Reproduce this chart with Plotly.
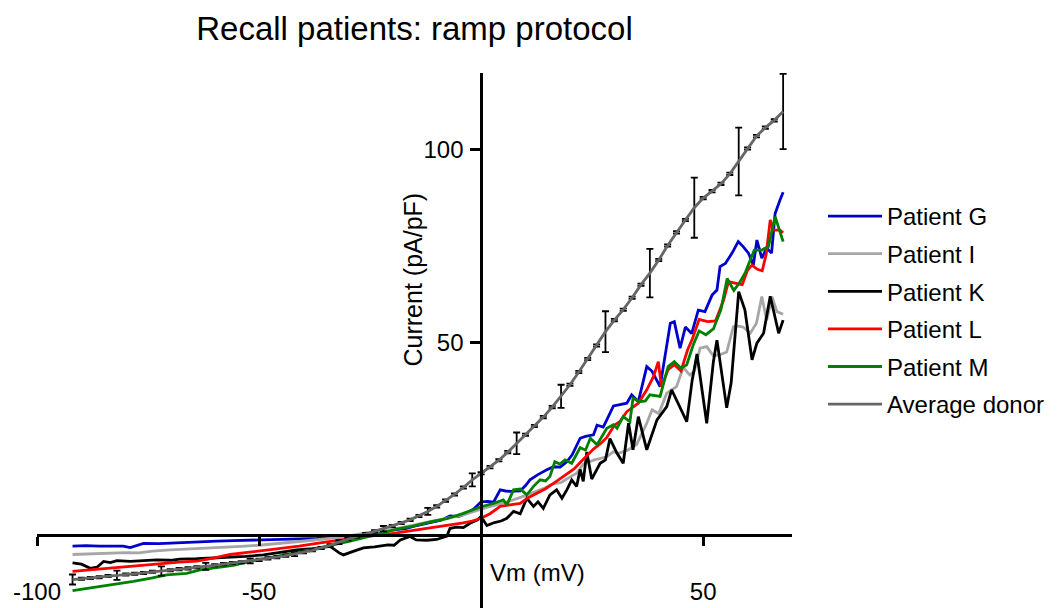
import plotly.graph_objects as go

# ---------------- data ----------------
V_G = [-92, -89, -86, -83, -80.6, -79, -76, -72.5, -69.3, -66, -63.3, -59.5, -55.8, -52.5, -49.8, -45, -40.8, -37,
       -33.3, -29.5, -25.7, -22.7, -19.8, -17, -15.3, -13.7, -11, -9, -7, -5, -3.2, -1.5, 0, 1.5, 2.8, 4.3, 5.5, 6.5,
       8.8, 10, 11, 12.7, 14.8, 16.3, 17.8, 19.3, 20.5, 22.3, 23.5, 25.3, 26.1, 27.5, 28.3, 29.8, 31, 32.8, 33.9, 35.4,
       37.3, 38.5, 40.3, 41.5, 42.6, 43.5, 44.8, 46.0, 47.4, 48.9, 50.4, 52.0, 53.1, 53.8, 55.0, 56.5, 57.9, 59.0,
       60.2, 61.3, 62.1, 63.2, 64.3, 65.4, 66.2, 67.3, 68.0]
I_G = [-2.9, -2.8, -2.9, -2.8, -2.9, -3.3, -2.2, -2.3, -2.1, -1.9, -1.8, -1.6, -1.5, -1.4, -1.3, -1.3, -1.1, -0.9,
       -0.6, -0.4, 0.1, 0.9, 1.3, 1.6, 2.2, 2.6, 3.2, 3.8, 4.9, 4.8, 5.6, 6.9, 8.6, 8.7, 8.5, 11.7, 11.4, 11.3,
       11.4, 12.8, 14.3, 15.6, 16.9, 17.7, 17.6, 19.0, 20.8, 25.1, 25.6, 26.0, 28.5, 28.0, 29.9, 33.5, 33.8, 34.2, 36.4,
       34.6, 43.7, 42.5, 38.5, 47.5, 55.0, 55.4, 48.5, 54.0, 52.3, 58.4, 58.0, 62.3, 63.6, 69.7, 70.5, 73.2, 76.2,
       74.9, 73.2, 70.1, 76.6, 71.9, 74.5, 73.2, 83.5, 87.0, 89.0]

V_I = [-92, -88, -84, -80, -77, -74, -70, -66, -62, -58, -54, -50, -46, -42, -38, -34, -30, -26, -22, -18, -14,
       -11.5, -8, -4, 0, 3, 6, 9, 12, 14, 16, 18, 20, 21.5, 23, 25.5, 28.3, 29.8, 31, 33, 35, 37.3, 38.5, 40, 41.8,
       44, 45.5, 47, 48, 49.3, 50.8, 52.3, 53.8, 55.3, 56.8, 57.6, 59, 60.6, 62, 63.2, 64.3, 65.5, 66.6, 68]
I_I = [-5.1, -4.9, -4.8, -4.6, -4.7, -4.2, -3.9, -3.7, -3.5, -3.3, -3.0, -2.7, -2.3, -1.8, -1.4, -0.9, -0.3, 0.5,
       1.1, 1.9, 2.8, 3.4, 4.3, 5.2, 6.7, 7.6, 8.6, 9.8, 11.0, 12.0, 13.2, 13.6, 15.0, 16.0, 18.4, 19.5, 20.3, 21.6,
       21.2, 22.0, 23.5, 29.0, 32.5, 31.5, 36.8, 38.5, 43.5, 41.5, 42.5, 48.5, 48.9, 46.5, 46.8, 47.5, 54.1, 54.3,
       54.0, 52.4, 55.0, 61.9, 55.8, 61.9, 58.0, 57.3]

V_K = [-92, -90, -88, -86.5, -85, -83.5, -82, -79, -76, -73, -70, -67.8, -64, -60, -56.5, -53, -49, -45, -41.5, -38,
       -34, -31.8, -31, -28.8, -26.5, -24, -21, -19.6, -18.2, -16, -14.6, -12.2, -10, -7.7, -7, -5.5, -4, -2.5, -0.8,
       0, 1.3, 3, 4.5, 5.8, 7.3, 8.8, 10.3, 11.8, 12.8, 14, 15.5, 17, 18.2, 19.3, 20.4, 21.5, 22.3, 23, 23.8, 24.9,
       26.8, 28, 29, 30.6, 32, 33.2, 34.2, 35.4, 37.3, 39.6, 41.8, 42.9, 44, 46.3, 47.5, 48.6, 50.8, 52.3, 53.1, 55.3,
       56.3, 58, 59.4, 61, 62.1, 63.6, 65.1, 67, 68]
I_K = [-7.3, -7.6, -8.7, -8.4, -6.9, -7.2, -6.7, -6.9, -6.7, -6.5, -6.6, -6.3, -6.2, -6.0, -5.8, -5.6, -5.2, -4.6,
       -3.9, -3.6, -3.0, -4.8, -5.2, -4.3, -3.4, -3.1, -2.6, -2.7, -1.3, -0.4, -1.3, -1.4, -1.2, -0.3, 1.7, 2.0, 1.9,
       3.0, 3.9, 4.8, 2.4, 3.2, 3.6, 4.3, 6.1, 5.5, 9.5, 7.4, 8.6, 6.9, 10.4, 11.7, 9.5, 11.7, 14.3, 12.6, 17.0, 13.9,
       21.5, 14.5, 18.6, 19.5, 25.0, 21.2, 18.6, 29.0, 22.1, 30.7, 22.1, 29.9, 33.3, 37.7, 35.1, 29.4, 40.0, 47.0,
       29.0, 45.0, 50.6, 33.0, 39.5, 63.2, 58.4, 45.5, 49.8, 52.4, 62.0, 52.4, 55.8]

V_L = [-92, -89, -86, -83, -80, -77, -74, -71, -68, -64, -60, -56.5, -52, -48, -44, -41, -37, -33, -29, -26, -22,
       -19, -15, -11.5, -8, -4, -2, 0, 2, 4.3, 6.5, 8.8, 10.5, 12.5, 14.5, 16.3, 18, 19.3, 21, 22.3, 24, 25.3, 27,
       28.3, 30, 31.3, 32.8, 35.4, 37.3, 38.8, 39.9, 40.6, 42.1, 43.5, 45, 46.5, 47.6, 49.1, 51, 52.8, 54.6, 55.7,
       57.2, 58.8, 60, 61, 62.2, 63.3, 64.2, 65.1, 65.8, 67.3, 68]
I_L = [-9.5, -9.2, -8.8, -8.5, -8.3, -8.0, -7.7, -7.4, -7.1, -6.8, -6.0, -5.1, -4.5, -3.9, -3.4, -2.9, -2.2, -1.6,
       -0.9, -0.4, 0.0, 0.5, 1.1, 1.7, 2.3, 3.1, 3.6, 4.3, 5.5, 7.4, 7.8, 8.2, 9.6, 10.8, 12.0, 13.4, 14.8, 16.0, 17.2,
       18.8, 20.8, 22.3, 23.8, 25.3, 28.5, 29.5, 32.0, 34.2, 37.7, 41.1, 45.0, 38.5, 42.9, 44.2, 42.6, 48.1, 51.0,
       56.0, 55.4, 55.6, 61.0, 65.8, 65.4, 65.0, 68.8, 70.1, 69.0, 68.6, 73.0, 81.8, 79.2, 79.2, 78.5]

V_M = [-92, -88, -85.8, -82, -78.3, -74, -70.8, -66.3, -63.3, -60, -55.8, -52, -48.3, -44.5, -40.8, -37, -33.3,
       -29.5, -25.7, -22.7, -19, -15.3, -11.5, -7.7, -4, 0, 2.8, 5, 5.8, 7.3, 8.8, 10.3, 11.8, 13.3, 14.5, 15.5, 16.6,
       17.7, 18.9, 20.4, 22.3, 23.5, 24.6, 26.1, 28.3, 29.8, 30.6, 32, 33.5, 34.2, 35.7, 37, 38, 40.3, 42.1, 43.5, 45,
       46.3, 47.8, 49.1, 50.6, 52.3, 54, 55.4, 56.9, 58.2, 59.5, 61.5, 63.2, 64.7, 66.2, 67.3, 68]
I_M = [-14.5, -13.8, -13.4, -12.8, -12.1, -11.2, -10.4, -10.0, -9.1, -8.6, -7.9, -6.9, -6.1, -5.4, -4.4, -3.5, -2.6,
       -1.6, -0.5, 0.3, 1.5, 2.3, 3.4, 4.2, 5.6, 7.3, 8.2, 9.1, 7.8, 11.7, 11.9, 10.4, 12.6, 14.3, 14.0, 15.2, 19.0,
       18.4, 19.5, 18.6, 22.7, 22.0, 25.1, 23.4, 27.7, 28.6, 27.7, 30.7, 29.4, 35.5, 34.6, 34.8, 36.4, 36.0, 43.7,
       45.0, 43.3, 44.2, 49.5, 53.0, 52.0, 53.5, 58.5, 66.6, 63.5, 65.5, 68.2, 74.0, 74.0, 74.9, 82.7, 78.8, 76.2]

V_D = [-92, -90, -88, -86, -84, -82, -80, -78, -76, -74, -72, -70, -68, -66, -64, -62, -60, -58, -56, -54, -52,
       -50, -48, -46, -44, -42, -40, -38, -36, -34, -32, -30, -28, -26, -24, -22, -20, -18, -16, -14, -12, -10, -8,
       -6, -4, -2, 0, 2, 4, 6, 8, 10, 12, 14, 16, 18, 20, 22, 24, 26, 28, 30, 32, 34, 36, 38, 40, 42, 44, 46, 48,
       50, 52, 54, 56, 58, 60, 62, 64, 66, 68]
I_D = [-11.6, -11.4, -11.2, -11.0, -10.7, -10.5, -10.3, -10.1, -9.9, -9.6, -9.4, -9.2, -8.9, -8.7, -8.4, -8.2, -7.9,
       -7.6, -7.3, -7.1, -6.8, -6.5, -6.1, -5.8, -5.4, -5.0, -4.5, -4.0, -3.4, -2.7, -1.9, -1.1, -0.4, 0.2, 0.9, 1.6,
       2.3, 3.1, 3.9, 4.9, 6.1, 7.4, 8.9, 10.5, 12.3, 14.3, 16.0, 17.6, 19.4, 21.5, 23.8, 26.0, 28.3, 30.6, 33.2,
       36.0, 39.0, 42.3, 45.7, 49.2, 52.8, 55.8, 58.5, 61.6, 65.0, 68.0, 71.4, 75.2, 78.6, 81.8, 85.0, 87.5, 89.3,
       91.2, 93.8, 97.0, 100.4, 103.6, 105.8, 107.7, 110.0]
E_D = [1.3, 0.3, 0.3, 0.3, 0.3, 1.2, 0.3, 0.3, 0.3, 0.3, 1.2, 0.3, 0.3, 0.3, 0.3, 0.9, 0.3, 0.3, 0.3, 0.3, 0.6,
       0.3, 0.3, 0.3, 0.3, 0.5, 0.3, 0.3, 0.3, 0.3, 0.5, 0.3, 0.3, 0.3, 0.3, 0.7, 0.3, 0.3, 0.3, 0.3, 0.9, 0.3, 0.3,
       0.3, 0.3, 1.7, 0.3, 0.3, 0.3, 0.3, 2.8, 0.3, 0.3, 0.3, 0.3, 3.0, 0.3, 0.3, 0.3, 0.3, 5.3, 0.3, 0.3, 0.3, 0.3,
       6.3, 0.3, 0.3, 0.3, 0.3, 7.8, 0.3, 0.3, 0.3, 0.3, 8.8, 0.3, 0.3, 0.3, 0.3, 9.8]

X_TICKS = [-100, -50, 50]
Y_TICKS = [50, 100]
X_RANGE = [-100, 70]
Y_RANGE = [-19, 120]

FONT = "Liberation Sans, Arial, sans-serif"

series = [
    ("Patient G", V_G, I_G, "#0000CC"),
    ("Patient I", V_I, I_I, "#A6A6A6"),
    ("Patient K", V_K, I_K, "#000000"),
    ("Patient L", V_L, I_L, "#FF0000"),
    ("Patient M", V_M, I_M, "#008000"),
]

fig = go.Figure()
for name, vx, iy, col in series:
    fig.add_trace(go.Scatter(x=vx, y=iy, mode="lines", name=name, legendgroup=name,
                             line=dict(color=col, width=2.8)))

fig.add_trace(go.Scatter(
    x=V_D, y=I_D, mode="lines", name="Average donor", legendgroup="donor",
    line=dict(color="#666666", width=2.8),
    error_y=dict(type="data", array=E_D, visible=True, color="#000000", thickness=1.8, width=3.5),
))

L, R, T, B = 37, 268, 73, 0
W, H = 1060, 608
pw = W - L - R
ph = H - T - B

def px_x(p):
    return (p - L) / pw

def px_y(p):
    return (H - B - p) / ph

fig.update_layout(
    width=W, height=H,
    margin=dict(l=L, r=R, t=T, b=B, autoexpand=False),
    paper_bgcolor="white", plot_bgcolor="white",
    font=dict(family=FONT, size=24, color="black"),
    showlegend=True,
    title=dict(text="Recall patients: ramp protocol", font=dict(size=33, family=FONT, color="black"),
               xref="paper", x=0.5, xanchor="center", yref="container", y=1 - 28 / H, yanchor="middle"),
    legend=dict(x=px_x(823), xanchor="left", y=px_y(194), yanchor="top",
                font=dict(size=24, family=FONT, color="black"), tracegroupgap=3.4,
                bgcolor="rgba(0,0,0,0)", itemwidth=54),
    xaxis=dict(range=X_RANGE, domain=[0, 1], anchor="free",
               position=(0 - Y_RANGE[0]) / (Y_RANGE[1] - Y_RANGE[0]),
               showgrid=False, zeroline=False, showline=True, linecolor="black", linewidth=2.6,
               ticks="outside", ticklen=9, tickwidth=2.6, tickcolor="black",
               tickvals=X_TICKS, ticktext=[str(v) for v in X_TICKS], ticklabelstandoff=26,
               tickfont=dict(size=24, family=FONT, color="black")),
    yaxis=dict(range=Y_RANGE, domain=[0, 1], anchor="free",
               position=(0 - X_RANGE[0]) / (X_RANGE[1] - X_RANGE[0]),
               showgrid=False, zeroline=False, showline=True, linecolor="black", linewidth=2.6,
               ticks="outside", ticklen=10, tickwidth=2.6, tickcolor="black",
               tickvals=Y_TICKS, ticktext=[str(v) for v in Y_TICKS], ticklabelstandoff=2,
               tickfont=dict(size=24, family=FONT, color="black")),
    annotations=[
        dict(text="Current (pA/pF)", xref="paper", yref="paper", x=px_x(412.5), y=px_y(280),
             xanchor="center", yanchor="middle", textangle=-90, showarrow=False,
             font=dict(size=25, family=FONT, color="black")),
        dict(text="Vm (mV)", xref="paper", yref="paper", x=px_x(488), y=px_y(572),
             xanchor="left", yanchor="middle", showarrow=False,
             font=dict(size=24, family=FONT, color="black")),
    ],
)

fig.write_html("out.html")
